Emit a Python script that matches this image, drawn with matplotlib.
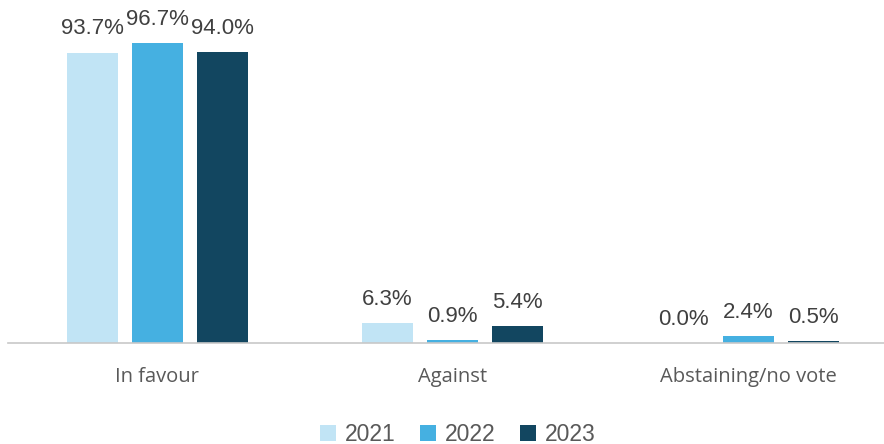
import matplotlib
matplotlib.use("Agg")
import matplotlib.pyplot as plt
import numpy as np

# Vote outcome shares by year
categories = ["In favour", "Against", "Abstaining/no vote"]
years = ["2021", "2022", "2023"]
share_2021 = [93.7, 6.3, 0.0]
share_2022 = [96.7, 0.9, 2.4]
share_2023 = [94.0, 5.4, 0.5]

colors = ["#C1E4F5", "#45B0E1", "#124660"]
series = [share_2021, share_2022, share_2023]

fig = plt.figure(figsize=(8.84, 4.44), dpi=100)
ax = fig.add_axes([8 / 884, 101 / 444, 876 / 884, 310 / 444])

x = np.arange(len(categories))
width = 0.173
offset = 0.22

for i, (vals, col, yr) in enumerate(zip(series, colors, years)):
    pos = x + (i - 1) * offset
    ax.bar(pos, vals, width=width, color=col, label=yr, zorder=2)
    for p, v in zip(pos, vals):
        ax.annotate(f"{v:.1f}%", (p, v), xytext=(0, 13), textcoords="offset points",
                    ha="center", va="baseline", fontsize=16,
                    family="Liberation Sans", color="#404040")

ax.set_xlim(-0.505, 2.46)
ax.set_ylim(0, 100)
ax.set_yticks([])
ax.set_xticks(x)
ax.set_xticklabels(categories, fontsize=14.5, family="Open Sans", color="#595959")
ax.tick_params(axis="x", length=0, pad=17)
for s in ["top", "right", "left"]:
    ax.spines[s].set_visible(False)
ax.spines["bottom"].set_color("#C8C8C8")
ax.spines["bottom"].set_linewidth(1.2)

fig.legend(loc="lower center", bbox_to_anchor=(0.518, -0.05), ncol=3, frameon=False,
           handlelength=0.7, handleheight=0.7, handletextpad=0.4, columnspacing=1.05,
           prop={"family": "Liberation Sans", "size": 16.5}, labelcolor="#595959")

fig.savefig("out.png", dpi=100)
